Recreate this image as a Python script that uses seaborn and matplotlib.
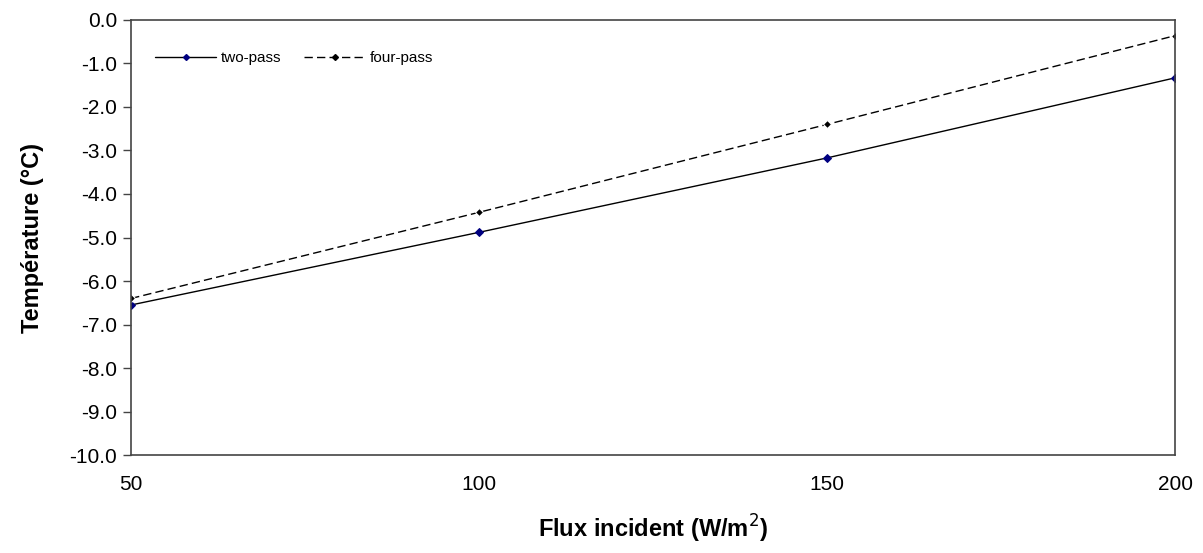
import pandas as pd
import numpy as np
import seaborn as sns
import matplotlib.pyplot as plt

sns.set_theme(style="white")
plt.rcParams['font.family'] = ['Liberation Sans', 'DejaVu Sans']
plt.rcParams['text.color'] = 'black'
plt.rcParams['axes.labelcolor'] = 'black'
plt.rcParams['xtick.color'] = 'black'
plt.rcParams['ytick.color'] = 'black'

flux = [50, 100, 150, 200]
two_pass = [-6.55, -4.88, -3.17, -1.33]
four_pass = [-6.40, -4.42, -2.40, -0.36]

df = pd.DataFrame({
    'flux': flux * 2,
    'temp': two_pass + four_pass,
    'serie': ['two-pass'] * 4 + ['four-pass'] * 4,
})

fig = plt.figure(figsize=(12.03, 5.53), dpi=100)
ax = fig.add_axes([0.109, 0.177, 0.868, 0.787])

sns.lineplot(data=df, x='flux', y='temp', hue='serie', style='serie',
             palette={'two-pass': '#000080', 'four-pass': 'black'},
             dashes={'two-pass': '', 'four-pass': (6, 3)},
             markers={'two-pass': 'D', 'four-pass': 'D'},
             markersize=4, linewidth=1, ax=ax, legend=False)
# lines themselves are black, only markers differ
for line in ax.get_lines():
    line.set_color('black')
ax.get_lines()[0].set_markerfacecolor('#000080')
ax.get_lines()[0].set_markeredgecolor('#000080')

ax.set_xlim(50, 200)
ax.set_ylim(-10, 0)
ax.set_xticks([50, 100, 150, 200])
ax.set_yticks(np.arange(-10, 0.1, 1))
ax.set_yticklabels([f"{v:.1f}" for v in np.arange(-10, 0.1, 1)])
ax.tick_params(axis='y', left=True, direction='out', length=6, width=1,
               color='#444444', labelsize=15, pad=4)
ax.tick_params(axis='x', bottom=False, labelsize=15, pad=8)

for s in ax.spines.values():
    s.set_color('#444444')
    s.set_linewidth(1.2)

ax.set_xlabel('Flux incident (W/m$^2$)', fontsize=17, fontweight='bold', labelpad=14)
ax.set_ylabel('Température (°C)', fontsize=17, fontweight='bold', labelpad=18)

h1, = ax.plot([], [], color='black', lw=1, marker='D', ms=3,
              mfc='#000080', mec='#000080')
h2, = ax.plot([], [], color='black', lw=1, ls=(0, (6, 3)), marker='D', ms=3)
ax.legend([h1, h2], ['two-pass', 'four-pass'], loc='upper left', ncol=2,
          frameon=False, fontsize=11, bbox_to_anchor=(0.01, 0.96),
          handlelength=4, columnspacing=1.5, handletextpad=0.3)

fig.savefig('out.png', dpi=100)
